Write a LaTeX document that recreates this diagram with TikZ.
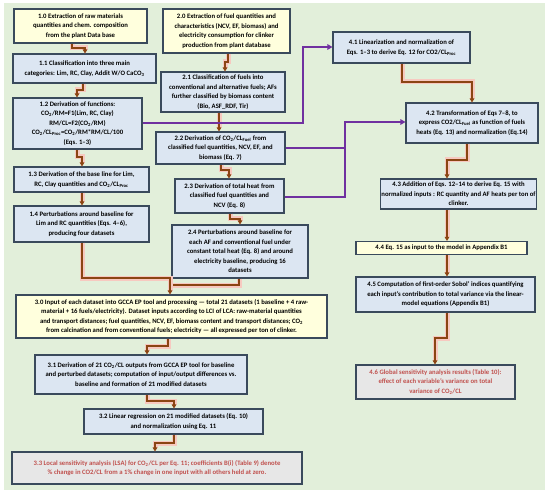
\documentclass[tikz,border=0pt]{standalone}
\usepackage{fontspec}
\setmainfont{Carlito}
\usetikzlibrary{arrows.meta}
\definecolor{bggreen}{HTML}{E2EFDA}
\definecolor{boxyellow}{HTML}{FFFFDD}
\definecolor{boxblue}{HTML}{DCE6F2}
\definecolor{boxgrey}{HTML}{E7E7E7}
\definecolor{boxline}{HTML}{3A4A5C}
\definecolor{brownarr}{HTML}{8B4513}
\definecolor{glowpink}{HTML}{F7C9C0}
\definecolor{purplearr}{HTML}{7030A0}
\definecolor{redtext}{HTML}{C0504D}
\newcommand{\COt}{CO\textsubscript{2}}
\begin{document}
\begin{tikzpicture}[x=1pt,y=-1pt,
  box/.style={draw=boxline, line width=1.1pt, align=center, inner sep=1pt,
    font=\bfseries\fontsize{6.7}{9.5}\selectfont},
  sz/.style 2 args={minimum width=#1pt, minimum height=#2pt},
  ybox/.style={box, fill=boxyellow},
  bbox/.style={box, fill=boxblue},
  gbox/.style={box, fill=boxgrey, text=redtext},
  brline/.style={draw=brownarr, line width=1.5pt, preaction={draw=glowpink, line width=5pt}},
  brarr/.style={brline, -{Triangle[length=4pt,width=4.5pt]}},
  purarr/.style={draw=purplearr, line width=1.8pt, -{Triangle[length=5pt,width=5.5pt]}},
  purline/.style={draw=purplearr, line width=1.8pt}
]
\useasboundingbox (0,0) rectangle (550,495);
\fill[bggreen] (4,3) rectangle (545,490);

% column 1
\node[ybox, sz={133}{34}] (n10) at (80.5,26) {1.0 Extraction of raw materials\\quantities and chem. composition\\from the plant Data base};
\node[bbox, sz={143}{29}] (n11) at (84.5,68.5) {1.1 Classification into three main\\categories: Lim, RC, Clay, Addit W/O CaCO\textsubscript{3}};
\node[bbox, sz={129}{51}] (n12) at (77.5,123.5) {1.2 Derivation of functions:\\\COt/RM=F1(Lim, RC, Clay)\\RM/CL=F2(\COt/RM)\\\COt/CL\textsubscript{Proc}=\COt/RM*RM/CL/100\\(Eqs. 1--3)};
\node[bbox, sz={135}{25}] (n13) at (81.5,179.5) {1.3 Derivation of the base line for Lim,\\RC, Clay quantities and \COt/CL\textsubscript{Proc}};
\node[bbox, sz={135}{36}] (n14) at (81.5,224) {1.4 Perturbations around baseline for\\Lim and RC quantities (Eqs. 4--6),\\producing four datasets};

% column 2
\node[ybox, sz={127}{44}] (n20) at (226.5,31) {2.0 Extraction of fuel quantities and\\characteristics (NCV, EF, biomass) and\\electricity consumption for clinker\\production from plant database};
\node[bbox, sz={124}{40}] (n21) at (223,92) {2.1 Classification of fuels into\\conventional and alternative fuels; AFs\\further classified by biomass content\\(Bio, ASF\_RDF, Tir)};
\node[bbox, sz={129}{32}] (n22) at (220.5,148) {2.2 Derivation of \COt/CL\textsubscript{Fuel} from\\classified fuel quantities, NCV, EF, and\\biomass (Eq. 7)};
\node[bbox, sz={109}{34}] (n23) at (229.5,196) {2.3 Derivation of total heat from\\classified fuel quantities and\\NCV (Eq. 8)};
\node[bbox, sz={136}{53}] (n24) at (240,251.5) {2.4 Perturbations around baseline for\\each AF and conventional fuel under\\constant total heat (Eq. 8) and around\\electricity baseline, producing 16\\datasets};

% column 3
\node[ybox, sz={311}{43}] (n30) at (171.5,316.5) {3.0 Input of each dataset into GCCA EP tool and processing --- total 21 datasets (1 baseline + 4 raw-\\material + 16 fuels/electricity). Dataset inputs according to LCI of LCA: raw-material quantities\\and transport distances; fuel quantities, NCV, EF, biomass content and transport distances; \COt\\from calcination and from conventional fuels; electricity --- all expressed per ton of clinker.};
\node[bbox, sz={212}{39}] (n31) at (141,374.5) {3.1 Derivation of 21 \COt/CL outputs from GCCA EP tool for baseline\\and perturbed datasets; computation of input/output differences vs.\\baseline and formation of 21 modified datasets};
\node[bbox, sz={179}{25}] (n32) at (173.5,421.5) {3.2 Linear regression on 21 modified datasets (Eq. 10)\\and normalization using Eq. 11};
\node[gbox, sz={290}{32}] (n33) at (157,468) {3.3 Local sensitivity analysis (LSA) for \COt/CL per Eq. 11; coefficients B(i) (Table 9) denote\\\% change in CO2/CL from a 1\% change in one input with all others held at zero.};

% column 4
\node[bbox, sz={137}{31}] (n41) at (401.5,47.5) {4.1 Linearization and normalization of\\Eqs. 1--3 to derive Eq. 12 for CO2/CL\textsubscript{Proc}};
\node[bbox, sz={132}{40}] (n42) at (472,123) {4.2 Transformation of Eqs 7--8, to\\express CO2/CL\textsubscript{Fuel} as function of fuels\\heats (Eq. 13) and normalization (Eq.14)};
\node[bbox, sz={137}{30}] (n43) at (458.5,194) {4.3 Addition of Eqs. 12--14 to derive Eq. 15 with\\normalized inputs : RC quantity and AF heats per ton of\\clinker.};
\node[ybox, sz={171}{13}] (n44) at (441.5,248) {4.4 Eq. 15 as input to the model in Appendix B1};
\node[bbox, sz={179}{35}] (n45) at (445.5,294.5) {4.5 Computation of first-order Sobol' indices quantifying\\each input's contribution to total variance via the linear-\\model equations (Appendix B1)};
\node[gbox, sz={159}{34}] (n46) at (435.5,382) {4.6 Global sensitivity analysis results (Table 10):\\effect of each variable's variance on total\\variance of \COt/CL};

% brown connectors
\draw[brarr] (n10.south -| 72,0) |- (85,48) -- (n11.north -| 85,0);
\draw[brarr] (n11.south -| 83,0) |- (77,90) -- (n12.north -| 77,0);
\draw[brarr] (n12.south -| 77,0) |- (82,157) -- (n13.north -| 82,0);
\draw[brarr] (n13.south -| 82,0) -- (n14.north -| 82,0);
\draw[brline] (n24.south -| 239,0) |- (170,285);
\draw[brarr] (n14.south -| 82,0) |- (170,278) -- (n30.north -| 170,0);
\draw[brarr] (n20.south -| 228,0) |- (225,62) -- (n21.north -| 225,0);
\draw[brarr] (n21.south -| 219,0) -- (n22.north -| 219,0);
\draw[brarr] (n22.south -| 221,0) |- (229,170) -- (n23.north -| 229,0);
\draw[brarr] (n23.south -| 230,0) |- (240,219) -- (n24.north -| 240,0);
\draw[brarr] (n30.south -| 168,0) |- (147,346) -- (n31.north -| 147,0);
\draw[brarr] (n31.south -| 147,0) |- (174,401) -- (n32.north -| 174,0);
\draw[brarr] (n32.south -| 174,0) |- (155,443) -- (n33.north -| 155,0);
\draw[brarr] (n41.south -| 402,0) |- (472,82) -- (n42.north -| 472,0);
\draw[brarr] (n42.south -| 467,0) |- (447,160) -- (n43.north -| 447,0);
\draw[brarr] (n43.south -| 447,0) -- (n44.north -| 447,0);
\draw[brarr] (n44.south -| 447,0) -- (n45.north -| 447,0);
\draw[brarr] (n45.south -| 447,0) |- (435,338) -- (n46.north -| 435,0);

% purple connectors
\draw[purarr] (n12.east |- 0,123) -| (303,47) -- (n41.west |- 0,47);
\draw[purline] (n23.east |- 0,197) -| (345,148);
\draw[purarr] (n22.east |- 0,148) -| (345,122) -- (n42.west |- 0,122);
\end{tikzpicture}
\end{document}
